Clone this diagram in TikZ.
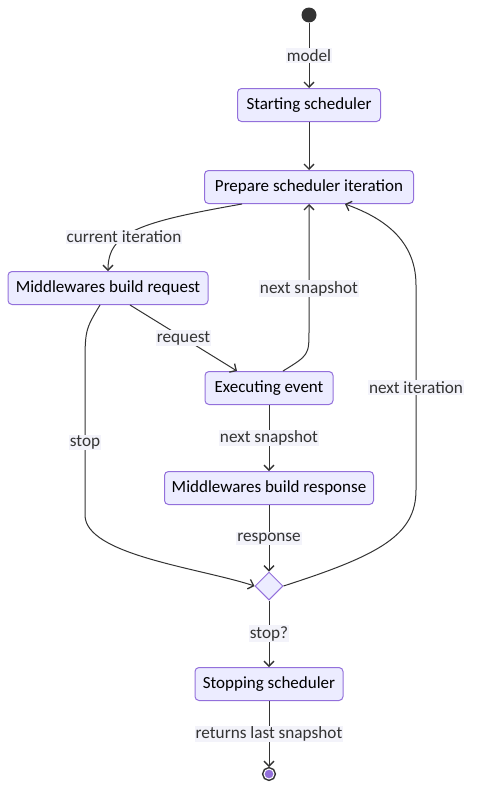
\documentclass[tikz,border=0pt]{standalone}
\usepackage{fontspec}
\setmainfont{Carlito}
\usetikzlibrary{arrows.meta,positioning,shapes.geometric}

\definecolor{statefill}{HTML}{ECECFF}
\definecolor{stateline}{HTML}{9370DB}
\definecolor{linkcol}{HTML}{333333}
\definecolor{labelbg}{HTML}{F3F3FA}

\begin{document}
\begin{tikzpicture}[
    x=1pt, y=-1pt,
    ->, >={Straight Barb[length=5pt,width=10pt,line width=1.3pt]},
    line width=1pt, draw=linkcol,
    activity/.style={draw=stateline, fill=statefill, rounded corners=4pt,
        minimum height=33pt, inner xsep=4pt, font=\fontsize{17}{20}\selectfont, text=black},
    choice/.style={diamond, draw=stateline, fill=statefill, minimum size=28pt, inner sep=0pt},
    startstate/.style={circle, fill=linkcol, minimum size=15pt, inner sep=0pt},
    endstate/.style={circle, fill=stateline, draw=white, line width=1pt, minimum size=10pt,
        inner sep=0pt, outer sep=2pt, preaction={draw=linkcol, line width=4pt}},
    lbl/.style={fill=labelbg, inner sep=1pt, font=\fontsize{17.2}{20}\selectfont, text=linkcol}
]
\useasboundingbox (0,0) rectangle (481,803);

% States
\node[startstate]                    (START) at (309,15)  {};
\node[activity, minimum width=143pt] (SCHED) at (309,105) {Starting scheduler};
\node[activity, minimum width=209pt] (PREP)  at (309,187) {Prepare scheduler iteration};
\node[activity, minimum width=200pt] (MWREQ) at (108,288) {Middlewares build request};
\node[activity, minimum width=128pt] (EXEC)  at (269,388) {Executing event};
\node[activity, minimum width=209pt] (MWRES) at (269,488) {Middlewares build response};
\node[choice]                        (STOP)  at (269,586) {};
\node[activity, minimum width=148pt] (HALT)  at (269,684) {Stopping scheduler};
\node[endstate]                      (END)   at (269,774) {};

% Transitions
\draw (START) -- node[lbl] {model} (SCHED);
\draw (SCHED) -- (PREP);
\draw ([xshift=-67pt]PREP.south) .. controls (140,222) and (108,232) .. (MWREQ.north)
    node[lbl, pos=0.62] {current iteration};
\draw ([xshift=22pt]MWREQ.south) -- node[lbl] {request} ([xshift=-32pt]EXEC.north);
\draw ([xshift=14pt]EXEC.north) .. controls (309,355) .. (309,330)
    -- node[lbl, pos=0.33] {next snapshot} (PREP.south);
\draw (EXEC) -- node[lbl] {next snapshot} (MWRES);
\draw (MWRES) -- node[lbl] {response} (STOP);
\draw ([xshift=-8pt]MWREQ.south) .. controls (85,330) .. (85,370)
    -- node[lbl] {stop} (85,515) .. controls (85,555) and (200,568) .. (STOP.west);
\draw (STOP.east) .. controls (380,555) and (416,535) .. (416,490)
    -- node[lbl] {next iteration} (416,285) .. controls (416,235) and (375,215) .. ([xshift=36pt]PREP.south);
\draw (STOP) -- node[lbl] {stop?} (HALT);
\draw (HALT) -- node[lbl] {returns last snapshot} (END);

\end{tikzpicture}
\end{document}
